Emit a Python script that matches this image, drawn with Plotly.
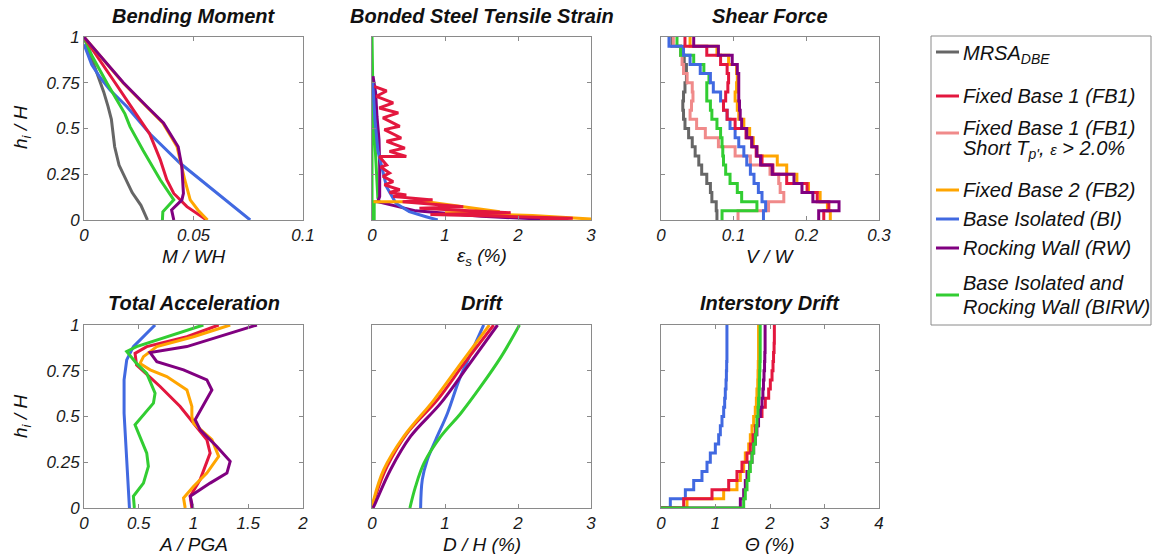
import plotly.graph_objects as go

W, H = 1153, 554

# ---------------- colours / names ----------------
SERIES = ["MRSA", "FB1", "FB1s", "FB2", "BI", "RW", "BIRW"]
COLORS = {"MRSA": "#666666", "FB1": "#E3173E", "FB1s": "#F08A8A", "FB2": "#FFA500",
          "BI": "#4169E1", "RW": "#800080", "BIRW": "#32CD32"}

# story levels (20 stories)
STORY_H = [0.0, 0.05, 0.10, 0.15, 0.20, 0.25, 0.30, 0.35, 0.40, 0.45, 0.50,
           0.55, 0.60, 0.65, 0.70, 0.75, 0.80, 0.85, 0.90, 0.95, 1.0]

# ---------------- Bending moment (M/WH vs h/H) ----------------
bm_h = {
    "MRSA": [1.0, 0.9, 0.8, 0.7, 0.62, 0.55, 0.5, 0.4, 0.3, 0.22, 0.15, 0.08, 0.0],
    "FB1": [1.0, 0.9, 0.75, 0.6, 0.47, 0.33, 0.22, 0.145, 0.073, 0.0],
    "FB2": [1.0, 0.9, 0.75, 0.62, 0.53, 0.4, 0.29, 0.22, 0.11, 0.055, 0.0],
    "BI": [0.96, 0.85, 0.78, 0.71, 0.62, 0.47, 0.31, 0.165, 0.0],
    "RW": [1.0, 0.9, 0.75, 0.62, 0.53, 0.4, 0.29, 0.145, 0.11, 0.055, 0.0],
    "BIRW": [1.0, 0.9, 0.75, 0.58, 0.51, 0.38, 0.22, 0.11, 0.045, 0.0],
}
bm_m = {
    "MRSA": [0, 0.003, 0.006, 0.009, 0.011, 0.0125, 0.013, 0.014, 0.016, 0.019, 0.022, 0.026, 0.029],
    "FB1": [0, 0.0058, 0.0142, 0.0226, 0.030, 0.0348, 0.0378, 0.041, 0.047, 0.056],
    "FB2": [0, 0.0070, 0.0178, 0.0285, 0.0360, 0.0425, 0.0445, 0.046, 0.0485, 0.052, 0.0564],
    "BI": [0, 0.0035, 0.0073, 0.0119, 0.0195, 0.0302, 0.0439, 0.0591, 0.0759],
    "RW": [0, 0.0073, 0.018, 0.0287, 0.0363, 0.043, 0.0447, 0.0454, 0.0447, 0.040, 0.041],
    "BIRW": [0, 0.0035, 0.0104, 0.0187, 0.021, 0.027, 0.0348, 0.041, 0.036, 0.0358],
}

# ---------------- Bonded steel tensile strain (%) ----------------
st_h = {
    "FB1": [0.73, 0.705, 0.676, 0.64, 0.612, 0.585, 0.558, 0.512, 0.494, 0.448, 0.43, 0.393, 0.375,
            0.347, 0.347, 0.30, 0.29, 0.256, 0.238, 0.21, 0.192, 0.165, 0.15, 0.137, 0.128, 0.11,
            0.10, 0.073, 0.064, 0.04, 0.03, 0.01, 0.0],
    "FB2": [0.1, 0.1, 0.075, 0.045, 0.04, 0.025, 0.005],
    "BI": [0.75, 0.55, 0.38, 0.29, 0.18, 0.09, 0.046, 0.018, 0.0],
    "RW": [0.786, 0.695, 0.567, 0.439, 0.293, 0.128, 0.1, 0.05, 0.02, 0.0],
    "BIRW": [0.0, 1.0, 0.75, 0.5, 0.25, 0.12, 0.1, 0.1, 0.0],
}
st_x = {
    "FB1": [0.03, 0.20, 0.06, 0.29, 0.10, 0.36, 0.15, 0.38, 0.17, 0.40, 0.20, 0.45, 0.24,
            0.47, 0.10, 0.20, 0.12, 0.24, 0.15, 0.29, 0.17, 0.38, 0.24, 0.47, 0.29, 0.83,
            0.42, 1.25, 0.65, 1.9, 0.8, 2.75, 2.3],
    "FB2": [0.02, 0.75, 1.2, 1.75, 1.0, 2.2, 3.0],
    "BI": [0.01, 0.04, 0.08, 0.13, 0.2, 0.33, 0.51, 0.74, 0.9],
    "RW": [0.014, 0.05, 0.068, 0.096, 0.105, 0.105, 0.08, 0.6, 1.5, 2.6],
    "BIRW": [0.0, 0.0, 0.01, 0.03, 0.06, 0.08, 0.1, 0.03, 0.03],
}

# ---------------- Shear force V/W per story (bottom -> top) ----------------
sh_v = {
    "MRSA": [0.077, 0.076, 0.070, 0.068, 0.063, 0.056, 0.052, 0.047, 0.043, 0.038,
             0.033, 0.031, 0.030, 0.031, 0.033, 0.035, 0.035, 0.032, 0.027, 0.015],
    "FB1": [0.224, 0.231, 0.215, 0.201, 0.173, 0.154, 0.139, 0.131, 0.125, 0.117,
            0.102, 0.091, 0.086, 0.089, 0.092, 0.093, 0.091, 0.082, 0.063, 0.033],
    "FB1s": [0.106, 0.148, 0.169, 0.164, 0.162, 0.150, 0.123, 0.102, 0.079, 0.061,
             0.049, 0.040, 0.042, 0.044, 0.043, 0.036, 0.031, 0.029, 0.027, 0.017],
    "FB2": [0.233, 0.229, 0.219, 0.203, 0.187, 0.173, 0.160, 0.132, 0.127, 0.122,
            0.114, 0.107, 0.105, 0.102, 0.104, 0.105, 0.104, 0.093, 0.077, 0.040],
    "BI": [0.141, 0.144, 0.139, 0.134, 0.128, 0.123, 0.118, 0.114, 0.107, 0.102,
           0.095, 0.091, 0.086, 0.082, 0.072, 0.068, 0.054, 0.040, 0.031, 0.011],
    "RW": [0.217, 0.245, 0.209, 0.194, 0.183, 0.153, 0.137, 0.132, 0.125, 0.118,
           0.111, 0.109, 0.108, 0.107, 0.107, 0.107, 0.105, 0.098, 0.079, 0.045],
    "BIRW": [0.084, 0.132, 0.111, 0.105, 0.095, 0.089, 0.086, 0.085, 0.084, 0.082,
             0.077, 0.070, 0.068, 0.063, 0.063, 0.066, 0.059, 0.045, 0.027, 0.022],
}

# ---------------- Total acceleration A/PGA ----------------
ac_h = {
    "FB1": [1.0, 0.936, 0.882, 0.845, 0.782, 0.664, 0.555, 0.464, 0.373, 0.3, 0.155, 0.064, 0.0],
    "FB2": [1.0, 0.936, 0.882, 0.827, 0.79, 0.755, 0.718, 0.645, 0.555, 0.5, 0.464, 0.373, 0.282,
            0.191, 0.118, 0.055, 0.0],
    "BI": [1.0, 0.936, 0.882, 0.809, 0.7, 0.518, 0.336, 0.155, 0.0],
    "RW": [1.0, 0.936, 0.882, 0.849, 0.8, 0.755, 0.7, 0.645, 0.527, 0.482, 0.427, 0.336, 0.255,
           0.191, 0.136, 0.064, 0.0],
    "BIRW": [1.0, 0.936, 0.882, 0.855, 0.79, 0.736, 0.627, 0.573, 0.455, 0.3, 0.227, 0.136, 0.064, 0.0],
}
ac_a = {
    "FB1": [1.23, 0.94, 0.573, 0.466, 0.48, 0.695, 0.878, 1.0, 1.122, 1.152, 1.061, 0.97, 0.985],
    "FB2": [1.335, 1.0, 0.665, 0.543, 0.512, 0.604, 0.756, 0.94, 0.985, 0.985, 1.0, 1.168, 1.23,
            1.122, 1.0, 0.909, 0.924],
    "BI": [0.649, 0.543, 0.451, 0.39, 0.366, 0.366, 0.384, 0.4, 0.415],
    "RW": [1.579, 1.244, 0.939, 0.604, 0.665, 0.909, 1.122, 1.168, 1.061, 1.015, 1.061, 1.213, 1.335,
           1.305, 1.152, 0.97, 0.994],
    "BIRW": [1.09, 0.756, 0.48, 0.39, 0.48, 0.573, 0.649, 0.634, 0.466, 0.573, 0.588, 0.543, 0.451, 0.46],
}

# ---------------- Drift D/H (%) ----------------
dr_h = {
    "FB1": [1.0, 0.79, 0.591, 0.409, 0.227, 0.064, 0.0],
    "FB2": [1.0, 0.79, 0.591, 0.391, 0.209, 0.045, 0.0],
    "BI": [1.0, 0.845, 0.7, 0.518, 0.373, 0.264, 0.155, 0.0],
    "RW": [1.0, 0.773, 0.573, 0.391, 0.209, 0.027, 0.0],
    "BIRW": [1.0, 0.827, 0.664, 0.518, 0.391, 0.245, 0.118, 0.0],
}
dr_d = {
    "FB1": [1.667, 1.263, 0.896, 0.482, 0.207, 0.046, 0.0],
    "FB2": [1.608, 1.217, 0.85, 0.436, 0.161, 0.023, 0.0],
    "BI": [1.53, 1.355, 1.194, 1.034, 0.873, 0.758, 0.689, 0.666],
    "RW": [1.72, 1.309, 0.942, 0.528, 0.253, 0.046, 0.014],
    "BIRW": [2.02, 1.77, 1.49, 1.217, 0.942, 0.712, 0.597, 0.519],
}

# ---------------- Interstory drift (%) per story (bottom -> top) ----------------
id_v = {
    "FB1": [0.416, 0.936, 1.242, 1.394, 1.486, 1.578, 1.639, 1.688, 1.731, 1.78,
            1.853, 1.914, 1.976, 2.006, 2.037, 2.055, 2.065, 2.075, 2.08, 2.08],
    "FB2": [0.477, 1.15, 1.394, 1.456, 1.517, 1.547, 1.609, 1.639, 1.67, 1.70,
            1.73, 1.75, 1.76, 1.775, 1.78, 1.785, 1.79, 1.79, 1.79, 1.79],
    "BI": [0.171, 0.447, 0.6, 0.752, 0.844, 0.905, 0.997, 1.058, 1.089, 1.119,
           1.15, 1.168, 1.18, 1.193, 1.2, 1.205, 1.21, 1.21, 1.21, 1.21],
    "RW": [1.456, 1.517, 1.547, 1.578, 1.627, 1.67, 1.70, 1.731, 1.76, 1.79,
           1.823, 1.853, 1.87, 1.88, 1.89, 1.9, 1.905, 1.91, 1.91, 1.91],
    "BIRW": [1.517, 1.547, 1.578, 1.609, 1.639, 1.67, 1.70, 1.731, 1.749, 1.761,
             1.78, 1.79, 1.80, 1.805, 1.81, 1.815, 1.82, 1.82, 1.82, 1.82],
}

# ---------------- axis ticks ----------------
X_TICKS = [[0, 0.05, 0.1], [0, 1, 2, 3], [0, 0.1, 0.2, 0.3],
           [0, 0.5, 1, 1.5, 2], [0, 1, 2, 3], [0, 1, 2, 3, 4]]
X_TEXT = [["0", "0.05", "0.1"], ["0", "1", "2", "3"], ["0", "0.1", "0.2", "0.3"],
          ["0", "0.5", "1", "1.5", "2"], ["0", "1", "2", "3"], ["0", "1", "2", "3", "4"]]
X_RANGE = [[0, 0.1], [0, 3], [0, 0.3], [0, 2], [0, 3], [0, 4]]
Y_TICKS = [0, 0.25, 0.5, 0.75, 1]
Y_TEXT = ["0", "0.25", "0.5", "0.75", "1"]
TITLES = ["Bending Moment", "Bonded Steel Tensile Strain", "Shear Force",
          "Total Acceleration", "Drift", "Interstory Drift"]
XLABELS = ["M / WH", "ε<sub>s</sub> (%)", "V / W", "A / PGA", "D / H (%)", "Θ (%)"]

LEGEND_LABELS = {
    "MRSA": ["MRSA<sub>DBE</sub>"],
    "FB1": ["Fixed Base 1 (FB1)"],
    "FB1s": ["Fixed Base 1 (FB1)", "Short T<sub>p'</sub>, <span style='font-size:15px'>ε</span> > 2.0%"],
    "FB2": ["Fixed Base 2 (FB2)"],
    "BI": ["Base Isolated (BI)"],
    "RW": ["Rocking Wall (RW)"],
    "BIRW": ["Base Isolated and", "Rocking Wall (BIRW)"],
}

FONT = "Liberation Sans"
LW = 3

# pixel layout
COLS = [(84, 303), (372, 591), (661, 879)]
ROWS = [(37, 220), (325, 508)]


def px(x):
    return x / W


def py(y):
    return 1 - y / H


fig = go.Figure()


def ax(i):
    return ("x" if i == 0 else f"x{i+1}"), ("y" if i == 0 else f"y{i+1}")


def add(i, x, y, key, shape="linear"):
    xa, ya = ax(i)
    fig.add_trace(go.Scatter(x=x, y=y, mode="lines", xaxis=xa, yaxis=ya,
                             line=dict(color=COLORS[key], width=LW, shape=shape),
                             showlegend=False, hoverinfo="skip"))


order_main = ["MRSA", "FB1", "FB1s", "FB2", "BI", "RW", "BIRW"]

# panel 1
for k in ["MRSA", "BI", "BIRW", "FB1", "FB2", "RW"]:
    add(0, bm_m[k], bm_h[k], k)
# panel 2
for k in ["BIRW", "RW", "BI", "FB2", "FB1"]:
    add(1, st_x[k], st_h[k], k)
# panel 3
for k in ["MRSA", "FB1s", "BIRW", "BI", "FB2", "FB1", "RW"]:
    add(2, sh_v[k] + [sh_v[k][-1]], STORY_H, k, shape="vh")
# panel 4
for k in ["BI", "FB1", "FB2", "RW", "BIRW"]:
    add(3, ac_a[k], ac_h[k], k)
# panel 5
for k in ["BI", "BIRW", "FB1", "FB2", "RW"]:
    add(4, dr_d[k], dr_h[k], k, shape="spline")
# panel 6
for k in ["BI", "FB2", "FB1", "RW", "BIRW"]:
    add(5, [0] + id_v[k] + [id_v[k][-1]], [0] + STORY_H, k, shape="vh")

tickfont = dict(family=FONT, size=17, color="#1a1a1a", style="italic")
layout = {}
for i in range(6):
    r, c = divmod(i, 3)
    xd = [px(COLS[c][0]), px(COLS[c][1])]
    yd = [py(ROWS[r][1]), py(ROWS[r][0])]
    xa, ya = ax(i)
    xkey = "xaxis" if i == 0 else f"xaxis{i+1}"
    ykey = "yaxis" if i == 0 else f"yaxis{i+1}"
    common = dict(showline=True, linecolor="#8a8a8a", linewidth=1, mirror="ticks",
                  ticks="inside", ticklen=4, tickcolor="#8a8a8a", showgrid=False,
                  zeroline=False, fixedrange=True, tickfont=tickfont, automargin=False)
    layout[xkey] = dict(domain=xd, anchor=ya, range=X_RANGE[i], tickvals=X_TICKS[i],
                        ticktext=X_TEXT[i], ticklabelstandoff=0, **common)
    layout[ykey] = dict(domain=yd, anchor=xa, range=[0, 1], tickvals=Y_TICKS,
                        ticktext=Y_TEXT, showticklabels=(c == 0), **common)

annotations = []
for i in range(6):
    r, c = divmod(i, 3)
    cx = px((COLS[c][0] + COLS[c][1]) / 2)
    ty = [16, 303][r]
    annotations.append(dict(x=cx, y=py(ty), xref="paper", yref="paper", showarrow=False,
                            text=f"<b><i>{TITLES[i]}</i></b>", xanchor="center", yanchor="middle",
                            font=dict(family=FONT, size=20, color="#111")))
    ly = [257, 544][r]
    annotations.append(dict(x=cx, y=py(ly), xref="paper", yref="paper", showarrow=False,
                            text=f"<i>{XLABELS[i]}</i>", xanchor="center", yanchor="middle",
                            font=dict(family=FONT, size=19, color="#111")))
for yy in [128, 417]:
    annotations.append(dict(x=px(22), y=py(yy), xref="paper", yref="paper", showarrow=False,
                            text="<i>h<sub>i</sub> / H</i>", textangle=-90,
                            xanchor="center", yanchor="middle",
                            font=dict(family=FONT, size=19, color="#111")))

# legend (drawn manually)
shapes = [dict(type="rect", xref="paper", yref="paper", x0=px(931), x1=px(1151),
               y0=py(325), y1=py(36), line=dict(color="#8a8a8a", width=1), fillcolor="white")]
LEG_LINE_Y = {"MRSA": 52, "FB1": 96, "FB1s": 133, "FB2": 190, "BI": 219, "RW": 248, "BIRW": 295}
LEG_TEXT_Y = {"MRSA": [55], "FB1": [96], "FB1s": [128, 149], "FB2": [190], "BI": [219],
              "RW": [248], "BIRW": [283, 307]}
for k in order_main:
    yl = LEG_LINE_Y[k]
    shapes.append(dict(type="line", xref="paper", yref="paper", x0=px(936), x1=px(959),
                       y0=py(yl), y1=py(yl), line=dict(color=COLORS[k], width=LW)))
    for txt, yt in zip(LEGEND_LABELS[k], LEG_TEXT_Y[k]):
        annotations.append(dict(x=px(961), y=py(yt), xref="paper", yref="paper", showarrow=False,
                                text=f"<i>{txt}</i>", xanchor="left", yanchor="middle",
                                font=dict(family=FONT, size=20, color="#111")))

fig.update_layout(width=W, height=H, margin=dict(l=0, r=0, t=0, b=0, autoexpand=False),
                  paper_bgcolor="white", plot_bgcolor="white",
                  annotations=annotations, shapes=shapes, **layout)
fig.write_html("out.html", config={"displayModeBar": False},
               post_script="document.body.style.margin='0';document.body.style.overflow='hidden';")
